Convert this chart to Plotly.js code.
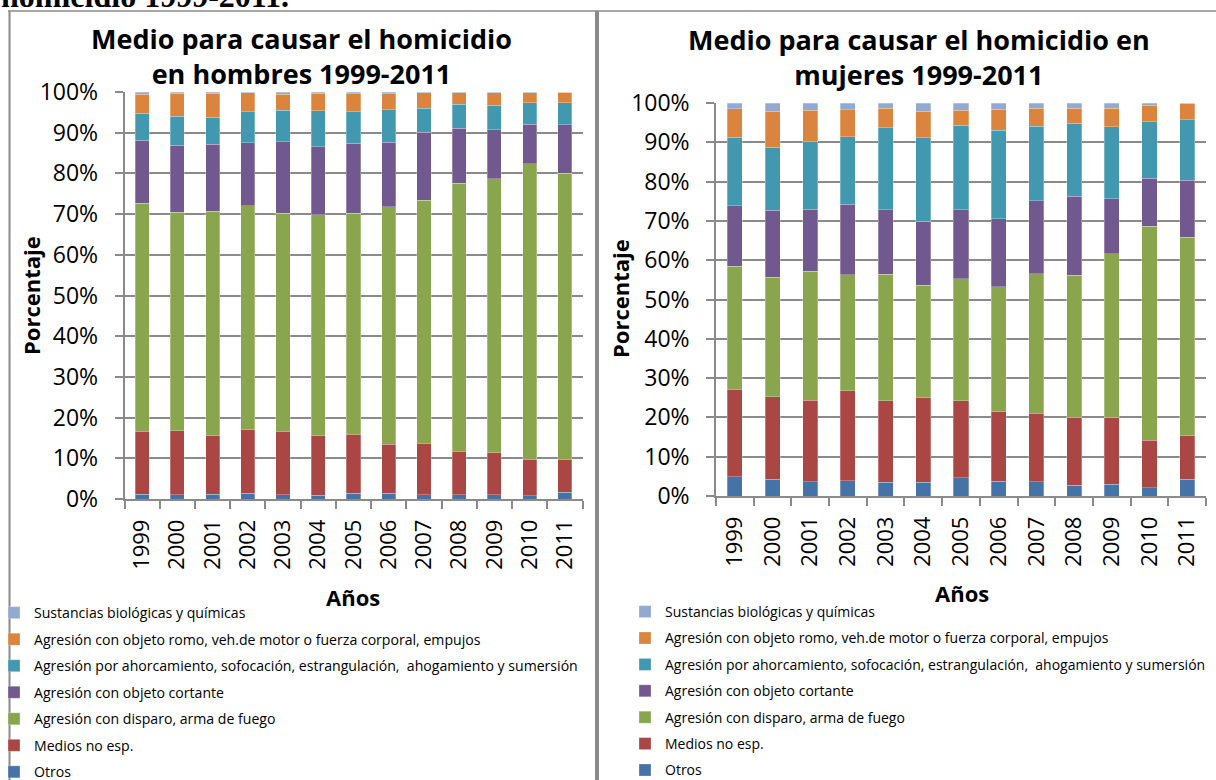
<!DOCTYPE html>
<html>
<head>
<meta charset="utf-8">
<script src="https://cdn.plot.ly/plotly-3.0.1.min.js"></script>
<style>
html,body{margin:0;padding:0;background:#fff;}
#chart{width:1216px;height:780px;}
</style>
</head>
<body>
<div id="chart"></div>
<script>
const years = ['1999','2000','2001','2002','2003','2004','2005','2006','2007','2008','2009','2010','2011'];

const seriesNames = [
  'Otros',
  'Medios no esp.',
  'Agresión con disparo, arma de fuego',
  'Agresión con objeto cortante',
  'Agresión por ahorcamiento, sofocación, estrangulación,  ahogamiento y sumersión',
  'Agresión con objeto romo, veh.de motor o fuerza corporal, empujos',
  'Sustancias biológicas y químicas'
];
const seriesColors = ['#4572A7','#AA4643','#89A54E','#71588F','#4198AF','#DB843D','#93A9CF'];

// Hombres (%)
const hOtros     = [1.2,1.1,1.2,1.4,1.1,0.9,1.4,1.4,1.1,1.0,1.1,0.8,1.6];
const hMedios    = [15.4,15.7,14.4,15.6,15.5,14.7,14.5,12.0,12.6,10.7,10.3,9.0,8.2];
const hDisparo   = [56.1,53.6,55.1,55.0,53.6,54.2,54.3,58.4,59.7,65.9,67.3,72.6,70.2];
const hCortante  = [15.5,16.5,16.5,15.5,17.6,16.7,17.2,15.9,16.7,13.5,12.0,9.7,11.9];
const hAhorc     = [6.6,7.1,6.6,7.7,7.7,8.9,7.8,7.9,5.9,5.9,6.0,5.2,5.4];
const hRomo      = [4.6,5.7,5.9,4.6,4.0,4.3,4.4,4.0,3.8,2.8,3.1,2.5,2.7];
const hSust      = [0.6,0.3,0.3,0.2,0.5,0.3,0.4,0.4,0.2,0.2,0.2,0.2,0.0];

// Mujeres (%)
const mOtros     = [4.9,4.2,3.6,3.9,3.5,3.5,4.7,3.8,3.6,2.7,3.0,2.1,4.3];
const mMedios    = [22.3,21.1,20.8,22.9,20.7,21.5,19.5,17.6,17.5,17.3,16.9,12.1,11.0];
const mDisparo   = [31.3,30.4,32.8,29.5,32.2,28.6,31.1,31.8,35.5,36.2,41.7,54.4,50.5];
const mCortante  = [15.3,17.0,15.8,18.0,16.4,16.3,17.5,17.4,18.5,20.1,14.0,12.3,14.6];
const mAhorc     = [17.5,16.0,17.1,17.1,20.9,21.3,21.5,22.5,19.0,18.6,18.4,14.3,15.4];
const mRomo      = [7.2,9.2,8.1,6.9,5.0,6.7,3.9,5.3,4.6,3.8,4.7,4.2,4.0];
const mSust      = [1.5,2.1,1.8,1.7,1.3,2.1,1.8,1.6,1.3,1.3,1.3,0.6,0.2];

const yTicks = [0,10,20,30,40,50,60,70,80,90,100];
const yTickText = ['0%','10%','20%','30%','40%','50%','60%','70%','80%','90%','100%'];

const hData = [hOtros,hMedios,hDisparo,hCortante,hAhorc,hRomo,hSust];
const mData = [mOtros,mMedios,mDisparo,mCortante,mAhorc,mRomo,mSust];

const traces = [];
hData.forEach((vals,i)=>{
  traces.push({
    type:'bar', x:years, y:vals, name:seriesNames[i], xaxis:'x', yaxis:'y',
    marker:{color:seriesColors[i], line:{color:'rgba(255,255,255,0.45)', width:0.6}},
    width:0.4, legend:'legend', legendgroup:'g'+i, legendrank:100-i, hoverinfo:'name+y'
  });
});
mData.forEach((vals,i)=>{
  traces.push({
    type:'bar', x:years, y:vals, name:seriesNames[i], xaxis:'x2', yaxis:'y2',
    marker:{color:seriesColors[i], line:{color:'rgba(255,255,255,0.45)', width:0.6}},
    width:0.4, legend:'legend2', legendgroup:'m'+i, legendrank:100-i, hoverinfo:'name+y'
  });
});

const W=1216, H=780;
const px = v => v/W;
const py = v => (H-v)/H;

const gridC = '#8a8a8a';
const FONT = '"Open Sans", Lato, sans-serif';
const yTickFont = {family:FONT, size:23, color:'#000'};
const xTickFont = {family:FONT, size:22, color:'#000'};

function xAxis(d, anchor){
  return {domain:d, anchor:anchor, type:'category', showgrid:false, showline:true, linecolor:gridC, linewidth:1.5,
    ticks:'outside', tickson:'boundaries', ticklen:8, tickcolor:gridC, tickwidth:1.5,
    tickangle:-90, tickfont:xTickFont, ticklabelstandoff:10, fixedrange:true, automargin:false};
}
function yAxis(d, anchor){
  return {domain:d, anchor:anchor, range:[0,100], tickvals:yTicks, ticktext:yTickText,
    showgrid:true, gridcolor:gridC, gridwidth:1.5, showline:true, linecolor:gridC, linewidth:1.5,
    ticks:'outside', ticklen:8, tickcolor:gridC, tickwidth:1.5, zeroline:false,
    tickfont:yTickFont, ticklabelstandoff:12, fixedrange:true, automargin:false};
}

const titleFont = {family:FONT, size:27, color:'#000', weight:'bold'};
const axTitleFont = {family:FONT, size:22, color:'#000', weight:'bold'};
const legFont = {family:FONT, size:14.1, color:'#000'};

const layout = {
  width:W, height:H, margin:{l:0,r:0,t:0,b:0, autoexpand:false}, paper_bgcolor:'#fff', plot_bgcolor:'#fff',
  barmode:'stack', showlegend:true,
  xaxis: xAxis([px(124.5), px(582.5)], 'y'),
  yaxis: yAxis([py(499), py(92)], 'x'),
  xaxis2: xAxis([px(716), px(1206)], 'y2'),
  yaxis2: yAxis([py(496), py(103)], 'x2'),
  legend:{x:px(-6), y:py(597), xanchor:'left', yanchor:'top', traceorder:'grouped', tracegroupgap:5.2,
    font:legFont, bgcolor:'rgba(0,0,0,0)', itemclick:false, itemdoubleclick:false},
  legend2:{x:px(625), y:py(596), xanchor:'left', yanchor:'top', traceorder:'grouped', tracegroupgap:5.2,
    font:{family:FONT, size:14, color:'#000'}, bgcolor:'rgba(0,0,0,0)', itemclick:false, itemdoubleclick:false},
  annotations:[
    {text:'<b>homicidio 1999-2011.</b>', xref:'paper', yref:'paper', x:px(-1), y:py(-4), xanchor:'left', yanchor:'middle',
      showarrow:false, font:{family:'"Liberation Serif", "DejaVu Serif", serif', size:32, color:'#000'}},
    {text:'Medio para causar el homicidio<br>en hombres 1999-2011', xref:'paper', yref:'paper', x:px(301), y:py(56),
      xanchor:'center', yanchor:'middle', showarrow:false, font:titleFont},
    {text:'Medio para causar el homicidio en<br>mujeres 1999-2011', xref:'paper', yref:'paper', x:px(919), y:py(57),
      xanchor:'center', yanchor:'middle', showarrow:false, font:titleFont},
    {text:'Porcentaje', xref:'paper', yref:'paper', x:px(31), y:py(296), textangle:-90,
      xanchor:'center', yanchor:'middle', showarrow:false, font:axTitleFont},
    {text:'Porcentaje', xref:'paper', yref:'paper', x:px(620), y:py(298), textangle:-90,
      xanchor:'center', yanchor:'middle', showarrow:false, font:axTitleFont},
    {text:'Años', xref:'paper', yref:'paper', x:px(353), y:py(597),
      xanchor:'center', yanchor:'middle', showarrow:false, font:axTitleFont},
    {text:'Años', xref:'paper', yref:'paper', x:px(962), y:py(593),
      xanchor:'center', yanchor:'middle', showarrow:false, font:axTitleFont}
  ],
  shapes:[
    {type:'line', xref:'paper', yref:'paper', x0:px(8), x1:1, y0:py(11), y1:py(11), line:{color:'#8a8a8a', width:1.5}},
    {type:'line', xref:'paper', yref:'paper', x0:px(9.5), x1:px(9.5), y0:py(11), y1:0, line:{color:'#8a8a8a', width:2}},
    {type:'line', xref:'paper', yref:'paper', x0:px(597), x1:px(597), y0:py(11), y1:0, line:{color:'#8a8a8a', width:4}}
  ]
};

Plotly.newPlot('chart', traces, layout, {displayModeBar:false});
</script>
</body>
</html>
